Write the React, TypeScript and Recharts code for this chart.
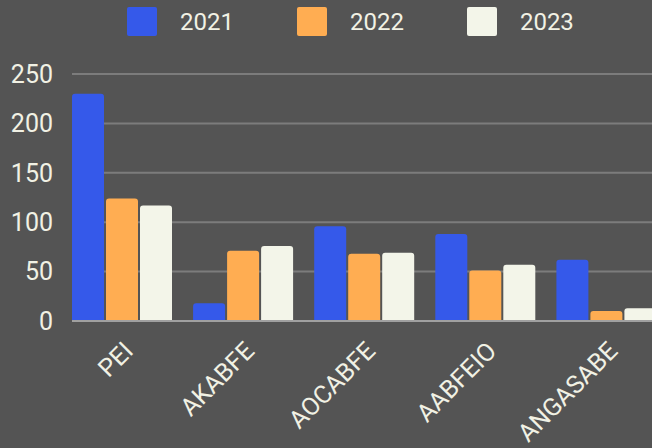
import { BarChart, Bar, XAxis, YAxis, CartesianGrid, Legend } from 'recharts';

const categorias = ['PEI', 'AKABFE', 'AOCABFE', 'AABFEIO', 'ANGASABE'];
const valores2021 = [230, 18, 96, 88, 62];
const valores2022 = [124, 71, 68, 51, 10];
const valores2023 = [117, 76, 69, 57, 13];
const ticksY = [0, 50, 100, 150, 200, 250];

const colores = { a2021: '#3559ea', a2022: '#ffad52', a2023: '#f3f5e9' };
const texto = '#f1f1e4';
const fuente = 'Roboto, sans-serif';

const datos = categorias.map((nombre, i) => ({
  nombre,
  a2021: valores2021[i],
  a2022: valores2022[i],
  a2023: valores2023[i],
}));

// leyenda propia: cuadrados grandes con el año al lado
const Leyenda = (props: any) => {
  const { payload = [] } = props;
  return (
    <div
      style={{
        height: 74,
        display: 'flex',
        alignItems: 'flex-start',
        paddingLeft: 127,
        paddingTop: 7,
        boxSizing: 'border-box',
        fontFamily: fuente,
      }}
    >
      {payload.map((p: any) => (
        <div key={p.value} style={{ display: 'flex', alignItems: 'center', marginRight: 63 }}>
          <div
            style={{
              width: 30,
              height: 29,
              background: p.color,
              borderRadius: 2,
              marginRight: 23,
            }}
          />
          <span style={{ color: texto, fontSize: 24 }}>{p.value}</span>
        </div>
      ))}
    </div>
  );
};

const App = () => {
  return (
    <div
      style={{
        position: 'fixed',
        top: 0,
        left: 0,
        width: 652,
        height: 448,
        overflow: 'hidden',
        background: '#545454',
      }}
    >
      <BarChart
        width={667}
        height={448}
        data={datos}
        margin={{ top: 0, right: 0, bottom: 0, left: 0 }}
        barCategoryGap={10.5}
        barGap={2}
      >
        <CartesianGrid vertical={false} stroke="#7c7c7c" strokeWidth={2} />
        <Legend
          verticalAlign="top"
          content={<Leyenda />}
          wrapperStyle={{ top: 0, left: 0, width: 652 }}
        />
        <XAxis
          dataKey="nombre"
          height={127}
          padding={{ left: -10.5, right: 0 }}
          axisLine={{ stroke: '#a0a0a0', strokeWidth: 2 }}
          tickLine={false}
          tickSize={0}
          tickMargin={19}
          angle={-45}
          textAnchor="end"
          interval={0}
          tick={{ fill: texto, fontSize: 25, fontFamily: fuente }}
        />
        <YAxis
          width={72}
          domain={[0, 250]}
          ticks={ticksY}
          axisLine={false}
          tickLine={false}
          tickSize={0}
          tickMargin={19}
          tick={{ fill: texto, fontSize: 25, fontFamily: fuente }}
        />
        <Bar dataKey="a2021" name="2021" fill={colores.a2021} radius={[3, 3, 0, 0]} isAnimationActive={false} />
        <Bar dataKey="a2022" name="2022" fill={colores.a2022} radius={[3, 3, 0, 0]} isAnimationActive={false} />
        <Bar dataKey="a2023" name="2023" fill={colores.a2023} radius={[3, 3, 0, 0]} isAnimationActive={false} />
      </BarChart>
    </div>
  );
};

export default App;
